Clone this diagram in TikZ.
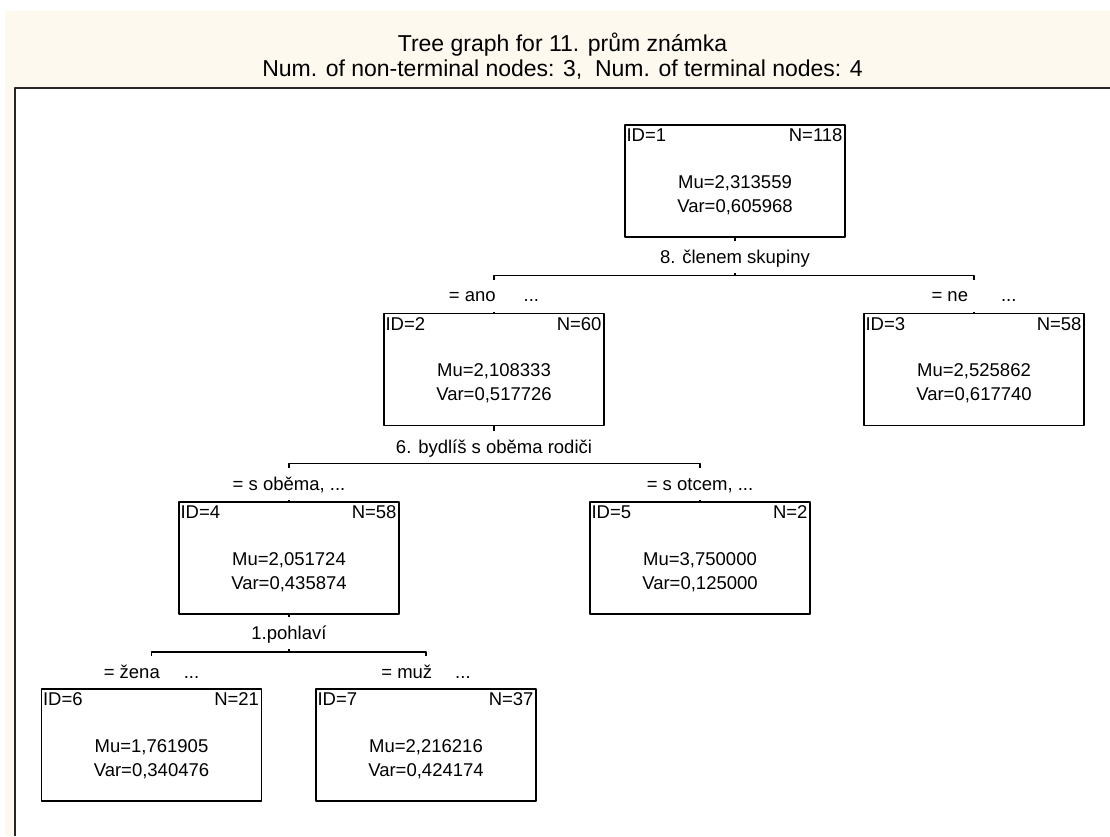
\documentclass[tikz,border=0pt]{standalone}
\usepackage{fontspec}
\setmainfont{Liberation Sans}
\definecolor{cream}{RGB}{254,249,238}
\tikzset{
  treebox/.style={draw=black, line width=1.4pt, minimum width=220pt, minimum height=112pt, inner sep=0pt},
  boxtext/.style={inner sep=0pt, font=\fontsize{18.5}{22}\selectfont},
  splitlabel/.style={fill=white, inner sep=0pt, inner xsep=3pt, minimum height=32pt, text height=14pt, text depth=2pt, font=\fontsize{18.5}{22}\selectfont},
  titletext/.style={anchor=base, inner sep=0pt, font=\fontsize{23}{27}\selectfont},
}
\begin{document}
\begin{tikzpicture}[x=1pt, y=-1pt, line join=round, line cap=butt]
  \useasboundingbox (0,0) rectangle (1110,836);
  % background and frame
  \fill[cream] (5,11) rectangle (1110,836);
  \fill[white] (16,89) rectangle (1110,836);
  \draw[line width=2pt, black!85] (15,836) -- (15,88) -- (1110,88);
  \node[titletext] (title1) at (562.5,51) {Tree graph for 11. prům známka};
  \node[titletext] (title2) at (562.5,76) {Num. of non-terminal nodes: 3,\ \ Num. of terminal nodes: 4};
  % nodes of the tree
  \foreach \nm/\x/\y/\id/\n/\mu/\v in {
      b1/735/181/1/118/{2,313559}/{0,605968},
      b2/494/369.5/2/60/{2,108333}/{0,517726},
      b3/974/369.5/3/58/{2,525862}/{0,617740},
      b4/289/558/4/58/{2,051724}/{0,435874},
      b5/700/558/5/2/{3,750000}/{0,125000},
      b6/151.5/745/6/21/{1,761905}/{0,340476},
      b7/426/745/7/37/{2,216216}/{0,424174}}{
    \node[treebox] (\nm) at (\x,\y) {};
    \node[boxtext, anchor=base west] at ([shift={(2,17.5)}]\nm.north west) {ID=\id};
    \node[boxtext, anchor=base east] at ([shift={(-3,17.5)}]\nm.north east) {N=\n};
    \node[boxtext, anchor=base] at ([shift={(0,64)}]\nm.north) {Mu=\mu};
    \node[boxtext, anchor=base] at ([shift={(0,88)}]\nm.north) {Var=\v};
  }
  % splits
  \coordinate (s1) at (735,275.5);
  \coordinate (s2) at (494,463.5);
  \coordinate (s3) at (289,652);
  \draw[line width=1.4pt] (b1.south) -- (s1);
  \draw[line width=1.4pt] (b2.north) |- (s1) -| (b3.north);
  \draw[line width=1.4pt] (b2.south) -- (s2);
  \draw[line width=1.4pt] (b4.north) |- (s2) -| (b5.north);
  \draw[line width=1.4pt] (b4.south) -- (s3);
  \draw[line width=1.4pt] (b6.north) |- (s3) -| (b7.north);
  \node[splitlabel] (l1) at (735,257) {8. členem skupiny};
  \node[splitlabel] (l2) at (494,295.5) {= ano\hspace{28pt}...};
  \node[splitlabel] (l3) at (974,295.5) {= ne\hspace{33pt}...};
  \node[splitlabel] (l4) at (494,447) {6. bydlíš s oběma rodiči};
  \node[splitlabel] (l5) at (289,484) {= s oběma, ...};
  \node[splitlabel] (l6) at (700,484) {= s otcem, ...};
  \node[splitlabel] (l7) at (289,633) {1.pohlaví};
  \node[splitlabel] (l8) at (151.5,672) {= žena\hspace{24pt}...};
  \node[splitlabel] (l9) at (426,672) {= muž\hspace{23pt}...};
\end{tikzpicture}
\end{document}
